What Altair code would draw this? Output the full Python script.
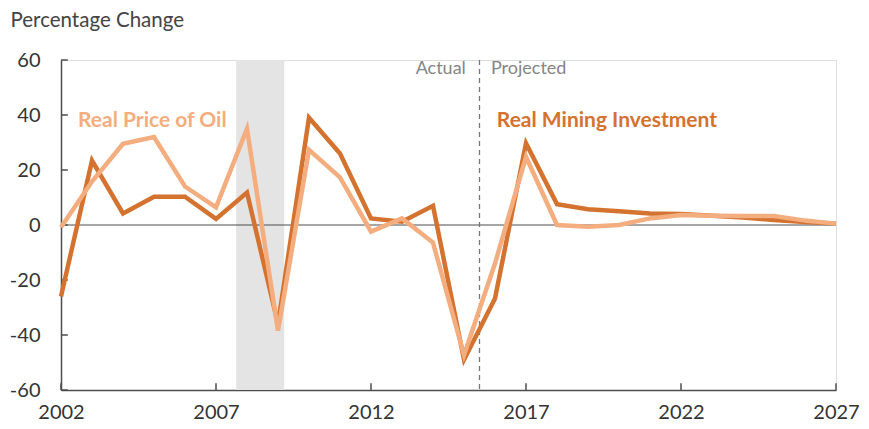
import altair as alt
import pandas as pd

years = list(range(2002, 2028))
mining = [-26, 23.4, 4.2, 10.3, 10.3, 2.2, 11.8, -36, 39, 26, 2.4, 1.2, 7, -49,
          -26.7, 29.7, 7.6, 5.7, 5.0, 4.2, 4.0, 3.4, 2.7, 1.8, 1.1, 0.5]
oil = [-0.8, 15.8, 29.5, 32, 14, 6.4, 35, -38.4, 27.3, 17.3, -2.4, 2.4, -6.4, -47.3,
       -14, 24.8, 0, -0.6, 0, 2.4, 3.6, 3.4, 3.3, 3.3, 1.6, 0.5]

x_ticks = [2002, 2007, 2012, 2017, 2022, 2027]
y_ticks = [-60, -40, -20, 0, 20, 40, 60]
recession = [2007.65, 2009.2]
split_year = 2015.5

DARK = "#D4722F"
LIGHT = "#F3AD7E"
AXIS = "#4d4d4d"
FONT = "Lato"

df = pd.DataFrame({"year": years, "mining": mining, "oil": oil})

xs = alt.Scale(domain=[2002, 2027], nice=False, zero=False)
ys = alt.Scale(domain=[-60, 60], nice=False)

x_axis = alt.Axis(values=x_ticks, format="d", title=None, tickSize=0, labelPadding=12,
                  labelFontSize=20, labelColor="#333", labelFont=FONT, domainColor=AXIS,
                  domainWidth=1.5, grid=False, labelFlush=False)
y_axis = alt.Axis(values=y_ticks, title="Percentage Change", titleAngle=0, titleAlign="left",
                  titleBaseline="middle", titleX=-51, titleY=-39.5, titleFontSize=20.5,
                  titleFontWeight="normal", titleColor="#444", titleFont=FONT,
                  labelExpr="'' + datum.value",
                  tickSize=0, labelPadding=21, labelFontSize=20, labelColor="#333",
                  labelFont=FONT, domainColor=AXIS, domainWidth=1.5, grid=False)

shade = alt.Chart(pd.DataFrame({"a": [recession[0]], "b": [recession[1]]})).mark_rect(
    color="#E4E4E4").encode(
    x=alt.X("a:Q", scale=xs, axis=x_axis),
    x2="b:Q",
    y=alt.value(0), y2=alt.value(330))

zero = alt.Chart(pd.DataFrame({"v": [0]})).mark_rule(color=AXIS, strokeWidth=1).encode(
    y=alt.Y("v:Q", scale=ys, axis=y_axis))

split = alt.Chart(pd.DataFrame({"x": [split_year]})).mark_rule(
    color="#777", strokeWidth=1.3, strokeDash=[5, 4]).encode(
    x=alt.X("x:Q", scale=xs), y=alt.value(0), y2=alt.value(330))

ytick_df = pd.DataFrame({"v": y_ticks, "x0": [2002] * len(y_ticks), "x1": [2002.22] * len(y_ticks)})
yticks = alt.Chart(ytick_df).mark_rule(color=AXIS, strokeWidth=1.5).encode(
    y=alt.Y("v:Q", scale=ys), x=alt.X("x0:Q", scale=xs), x2="x1:Q")

xtick_df = pd.DataFrame({"x": x_ticks, "y0": [-60] * len(x_ticks), "y1": [-57.5] * len(x_ticks)})
xticks = alt.Chart(xtick_df).mark_rule(color=AXIS, strokeWidth=1.5).encode(
    x=alt.X("x:Q", scale=xs), y=alt.Y("y0:Q", scale=ys), y2="y1:Q")

line_mining = alt.Chart(df).mark_line(color=DARK, strokeWidth=4.5).encode(
    x=alt.X("year:Q", scale=xs), y=alt.Y("mining:Q", scale=ys))
line_oil = alt.Chart(df).mark_line(color=LIGHT, strokeWidth=4.5).encode(
    x=alt.X("year:Q", scale=xs), y=alt.Y("oil:Q", scale=ys))

labels = pd.DataFrame({
    "x": [2002.55, 2016.06],
    "y": [37.8, 37.8],
    "t": ["Real Price of Oil", "Real Mining Investment"],
    "c": [LIGHT, DARK],
})
series_text = alt.Chart(labels).mark_text(
    align="left", baseline="middle", fontSize=21, fontWeight="bold", font=FONT).encode(
    x=alt.X("x:Q", scale=xs), y=alt.Y("y:Q", scale=ys), text="t:N",
    color=alt.Color("c:N", scale=None))

ap = pd.DataFrame({"x": [2015.06, 2015.87], "y": [56.7, 56.7], "t": ["Actual", "Projected"]})
actual = alt.Chart(ap.iloc[[0]]).mark_text(
    align="right", baseline="middle", fontSize=18, color="#858585", font=FONT).encode(
    x=alt.X("x:Q", scale=xs), y=alt.Y("y:Q", scale=ys), text="t:N")
projected = alt.Chart(ap.iloc[[1]]).mark_text(
    align="left", baseline="middle", fontSize=18, color="#858585", font=FONT).encode(
    x=alt.X("x:Q", scale=xs), y=alt.Y("y:Q", scale=ys), text="t:N")

chart = alt.layer(shade, zero, split, yticks, xticks, line_mining, line_oil,
                  series_text, actual, projected).properties(
    width=775, height=330,
    autosize=alt.AutoSizeParams(type="none"),
    padding={"left": 53, "top": 52, "right": 25, "bottom": 31},
).configure_view(stroke=None).configure(background="white")

chart.save("out.html", embed_options={"renderer": "svg", "actions": False})
